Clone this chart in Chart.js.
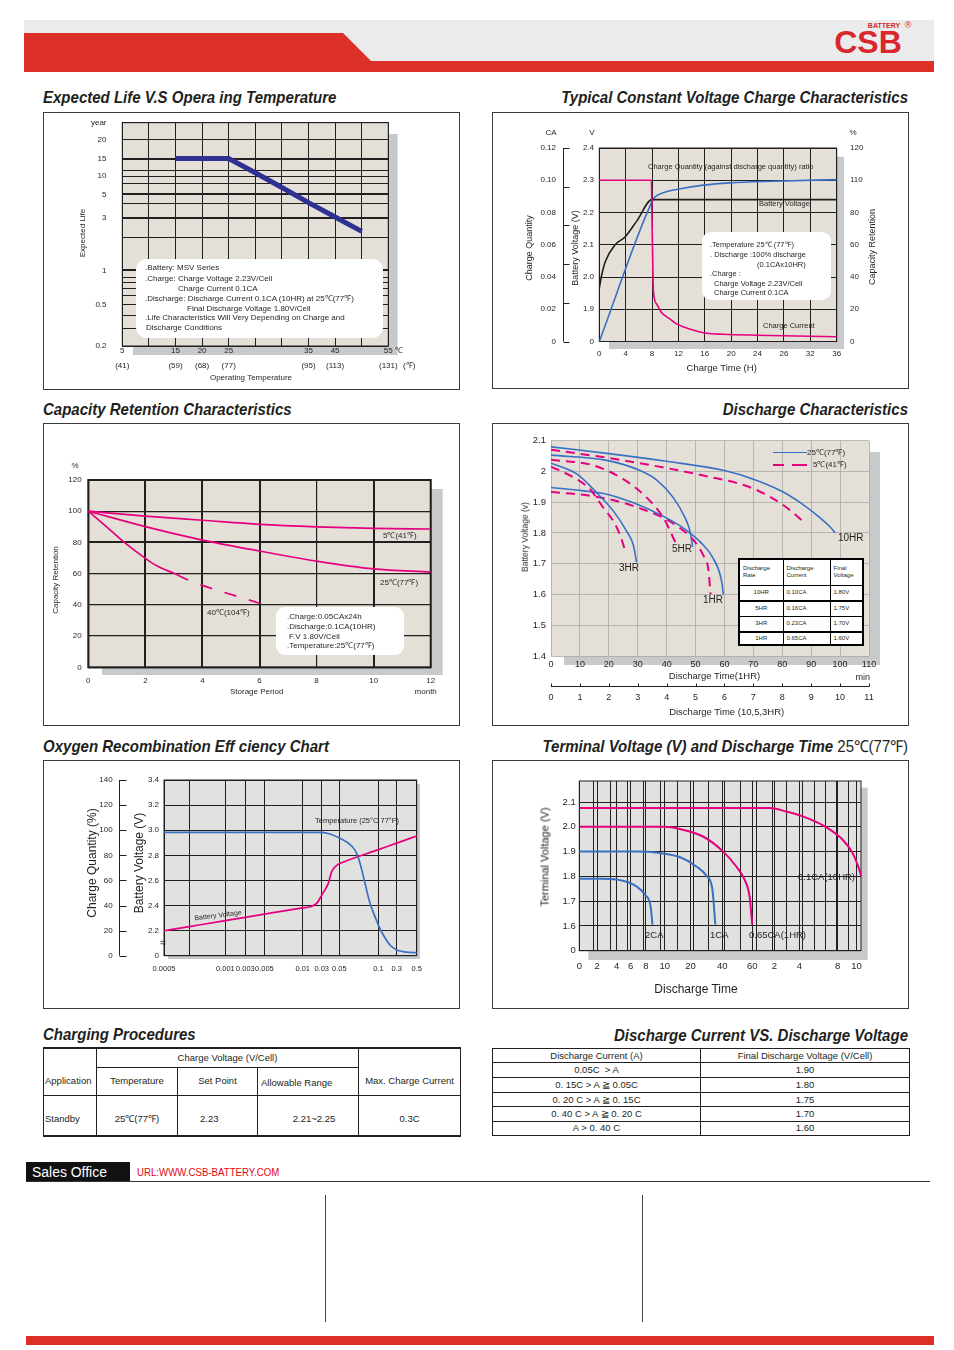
<!DOCTYPE html>
<html>
<head>
<meta charset="utf-8">
<title>CSB battery characteristics</title>
<script src="https://cdn.jsdelivr.net/npm/chart.js@4.4.1/dist/chart.umd.min.js"></script>
<style>
  body { margin: 0; background: #fff; }
  #page { position: relative; width: 954px; height: 1350px; overflow: hidden; font-family: 'Liberation Sans', Arial, sans-serif; color: #231f20; }
  .abs { position: absolute; white-space: nowrap; line-height: 1; }
  .blk { position: absolute; box-sizing: border-box; }
  .panel { position: absolute; box-sizing: border-box; border: 1px solid #3c3c3c; }
  .head { font-family: 'Liberation Sans Narrow', 'Arial Narrow', 'Liberation Sans', sans-serif; font-weight: bold; font-style: italic; }
  .note { position: absolute; background: #fff; border-radius: 9px; }
  canvas { position: absolute; }
  table { position: absolute; border-collapse: collapse; color: #231f20; table-layout: fixed; }
  .tbl { font-family: 'Liberation Sans Narrow', 'Arial Narrow', 'Liberation Sans', sans-serif; font-size: 9.5px; }
  .tbl td { border: 1px solid #231f20; padding: 0 2px; line-height: 1; }
  #rateTable td { border: 1px solid #000; padding: 0 3px; line-height: 1.15; }
</style>
</head>
<body>
<div id="page">
  <!-- header -->
  <div class="blk" style="left:24px;top:20px;width:910px;height:41px;background:#ebebeb"></div>
  <svg class="blk" style="left:0;top:0" width="954" height="80">
    <polygon points="24,33 343,33 371,61 934,61 934,72 24,72" fill="#dc2f27"/>
  </svg>

  <!-- chart panels -->
  <div class="panel" style="left:43px;top:112px;width:417px;height:278px"></div>
  <div class="panel" style="left:492px;top:112px;width:417px;height:277px"></div>
  <div class="panel" style="left:43px;top:423px;width:417px;height:303px"></div>
  <div class="panel" style="left:492px;top:423px;width:417px;height:303px"></div>
  <div class="panel" style="left:43px;top:760px;width:417px;height:249px"></div>
  <div class="panel" style="left:492px;top:760px;width:417px;height:249px"></div>

  <canvas id="lifeChart" width="417" height="278" style="left:43px;top:112px"></canvas>
  <canvas id="chargeChart" width="417" height="277" style="left:492px;top:112px"></canvas>
  <canvas id="storageChart" width="417" height="303" style="left:43px;top:423px"></canvas>
  <canvas id="dischargeChart" width="417" height="303" style="left:492px;top:423px"></canvas>
  <canvas id="oxygenChart" width="417" height="249" style="left:43px;top:760px"></canvas>
  <canvas id="terminalChart" width="417" height="249" style="left:492px;top:760px"></canvas>

  <!-- note boxes -->
  <div class="note" style="left:136px;top:259px;width:247px;height:79px;border-radius:11px"></div>
  <div class="note" style="left:702px;top:232px;width:129px;height:68px"></div>
  <div class="note" style="left:276px;top:607px;width:128px;height:48px"></div>

  <!-- discharge rate table inside the discharge chart -->
  <table id="rateTable" style="left:738px;top:558px;width:124px;height:86px;font-size:6px;border:2px solid #000;background:#fff">
    <colgroup><col style="width:44px"><col style="width:47px"><col style="width:33px"></colgroup>
    <tr style="height:26px"><td style="vertical-align:top;padding-top:5px">Discharge<br>Rate</td><td style="vertical-align:top;padding-top:5px">Discharge<br>Current</td><td style="vertical-align:top;padding-top:5px">Final<br>Voltage</td></tr>
    <tr style="height:16px"><td style="text-align:center">10HR</td><td>0.10CA</td><td>1.80V</td></tr>
    <tr style="height:15px"><td style="text-align:center;border-top-width:2px">5HR</td><td style="border-top-width:2px">0.16CA</td><td style="border-top-width:2px">1.75V</td></tr>
    <tr style="height:16px"><td style="text-align:center">3HR</td><td>0.23CA</td><td>1.70V</td></tr>
    <tr style="height:13px"><td style="text-align:center;border-top-width:2px">1HR</td><td style="border-top-width:2px">0.65CA</td><td style="border-top-width:2px">1.60V</td></tr>
  </table>

  <!-- charging procedures -->
  <table class="tbl" style="left:43px;top:1047px;width:417px;border-top:2px solid #231f20;border-bottom:2px solid #231f20">
    <colgroup><col style="width:53px"><col style="width:81px"><col style="width:80px"><col style="width:101px"><col style="width:102px"></colgroup>
    <tr style="height:19px">
      <td rowspan="2" style="vertical-align:bottom;padding-bottom:9px;padding-left:1px">Application</td>
      <td colspan="3" style="text-align:center">Charge Voltage (V/Cell)</td>
      <td rowspan="2" style="vertical-align:bottom;padding-bottom:9px;text-align:center">Max. Charge Current</td>
    </tr>
    <tr style="height:28px">
      <td style="text-align:center">Temperature</td>
      <td style="text-align:center">Set Point</td>
      <td style="padding-left:3px;padding-top:3px">Allowable Range</td>
    </tr>
    <tr style="height:41px">
      <td style="padding-left:1px;padding-top:6px">Standby</td>
      <td style="text-align:center;padding-top:6px">25℃(77℉)</td>
      <td style="padding-left:22px;padding-top:6px">2.23</td>
      <td style="text-align:center;padding-left:14px;padding-top:6px">2.21~2.25</td>
      <td style="text-align:center;padding-top:6px">0.3C</td>
    </tr>
  </table>

  <!-- discharge current vs voltage -->
  <table class="tbl" style="left:492px;top:1048px;width:417px">
    <colgroup><col style="width:208px"><col style="width:209px"></colgroup>
    <tr style="height:14px"><td style="text-align:center">Discharge Current (A)</td><td style="text-align:center">Final Discharge Voltage (V/Cell)</td></tr>
    <tr style="height:15px"><td style="text-align:center">0.05C &nbsp;&gt; A</td><td style="text-align:center">1.90</td></tr>
    <tr style="height:14.5px"><td style="text-align:center">0. 15C &gt; A ≧ 0.05C</td><td style="text-align:center">1.80</td></tr>
    <tr style="height:14.5px"><td style="text-align:center">0. 20 C &gt; A ≧ 0. 15C</td><td style="text-align:center">1.75</td></tr>
    <tr style="height:14.5px"><td style="text-align:center">0. 40 C &gt; A ≧ 0. 20 C</td><td style="text-align:center">1.70</td></tr>
    <tr style="height:14px"><td style="text-align:center">A &gt; 0. 40 C</td><td style="text-align:center">1.60</td></tr>
  </table>

  <!-- footer -->
  <div class="blk" style="left:26px;top:1162px;width:104px;height:20px;background:#111"></div>
  <div class="blk" style="left:26px;top:1181px;width:904px;height:1px;background:#333"></div>
  <div class="blk" style="left:325px;top:1195px;width:1px;height:127px;background:#444"></div>
  <div class="blk" style="left:642px;top:1195px;width:1px;height:127px;background:#444"></div>
  <div class="blk" style="left:26px;top:1336px;width:908px;height:9px;background:#dc2f27"></div>
</div>

<script>
// ---------- data ----------
// Expected life vs operating temperature
const lifeTempC = [15, 20, 25, 30, 35, 40, 45, 50];
const lifeYears = [15, 15, 15, 11, 6.9, 4.3, 3.1, 2.5];
const lifeTickC = [5, 15, 20, 25, 40, 45, 55];
const lifeTickLabelC = ['5', '15', '20', '25', '35', '45', '55'];
const lifeTickLabelF = ['(41)', '(59)', '(68)', '(77)', '(95)', '(113)', '(131)'];
const lifeYearTicks = [25, 20, 15, 10, 5, 3, 1, 0.5, 0.2];
const lifeYearLabels = ['year', '20', '15', '10', '5', '3', '1', '0.5', '0.2'];

// Constant voltage charge
const chgTimeTicks = ['0', '4', '8', '12', '16', '20', '24', '26', '32', '36'];
const chgRetLabels = ['0', '20', '40', '60', '80', '110', '120'];
const chgCurH = [0, 7.9, 8.0, 8.1, 8.2, 8.7, 9.4, 10.7, 11.7, 13.7, 16.3, 18.8, 23.8, 36];
const chgCurCA = [0.1, 0.1, 0.075, 0.05, 0.0315, 0.0233, 0.0181, 0.014, 0.0109, 0.0078, 0.0051, 0.0045, 0.0039, 0.0029];
const chgVoltH = [0, 0.3, 0.9, 2.4, 3.9, 5.7, 8, 36];
const chgVolt = [1.965, 2.0, 2.047, 2.1, 2.124, 2.174, 2.24, 2.24];
const chgQtyH = [0, 7.9, 8.4, 9.7, 11.7, 15.8, 19.8, 26.4, 36];
const chgQty = [0, 86, 89.5, 92.2, 94.3, 97, 98.4, 99.4, 100.4];

// Capacity retention (storage)
const store5M = [0, 2, 4, 6, 8, 10, 12];
const store5 = [100, 96.8, 94.2, 91.6, 90, 89, 88.6];
const store25M = [0, 2, 4, 6, 8, 10, 12];
const store25 = [100, 90.1, 81.5, 74.5, 68, 63, 61];
const store40M = [0, 0.64, 1.23, 2, 2.4, 3, 3.5, 6];
const store40 = [100, 90, 80.5, 69.8, 65, 60.2, 55.9, 41];

// Discharge characteristics (x in hours for 10/5/3HR, minutes for 1HR)
const d10H = [0, 2, 4, 6, 7, 8, 8.6, 9.3, 9.65, 9.83];
const d10V = [2.08, 2.058, 2.033, 2.003, 1.975, 1.935, 1.9, 1.85, 1.82, 1.8];
const d10H5 = [0, 2.5, 5.3, 6.9, 8, 8.8];
const d10V5 = [2.071, 2.036, 1.986, 1.948, 1.893, 1.832];
const d5H = [0, 1.93, 3.08, 3.66, 4.23, 4.64, 4.81, 4.9];
const d5V = [2.053, 2.036, 2.003, 1.972, 1.915, 1.849, 1.805, 1.755];
const d5H5 = [0, 1.46, 2.5, 3.31, 3.89, 4.35];
const d5V5 = [2.038, 2.02, 1.975, 1.915, 1.849, 1.76];
const d3H = [0, 0.89, 1.58, 2.16, 2.62, 2.85, 2.96];
const d3V = [2.027, 1.992, 1.931, 1.871, 1.805, 1.76, 1.705];
const d3H5 = [0, 0.77, 1.35, 1.81, 2.16, 2.39, 2.56];
const d3V5 = [2.016, 1.981, 1.942, 1.882, 1.838, 1.793, 1.744];
const d1M = [0, 11.2, 19.3, 28.5, 38.9, 45.8, 51.6, 56.2, 59.1, 59.6];
const d1V = [1.948, 1.937, 1.926, 1.898, 1.854, 1.816, 1.771, 1.716, 1.639, 1.6];
const d1M5 = [0, 11.2, 22.7, 30.8, 38.9, 44.6, 49.3, 52.7, 54.4, 55.2];
const d1V5 = [1.933, 1.924, 1.904, 1.88, 1.849, 1.816, 1.777, 1.727, 1.683, 1.6];

// Oxygen recombination efficiency
const oxRateTicks = [0.0005, 0.0007, 0.001, 0.003, 0.005, 0.01, 0.03, 0.05, 0.1, 0.3, 0.5];
const oxRateLabels = ['0.0005', '', '0.001', '0.003', '0.005', '0.01', '0.03', '0.05', '0.1', '0.3', '0.5'];
const oxEffRate = [0.0005, 0.001, 0.003, 0.005, 0.01, 0.03, 0.0394, 0.0509, 0.0658, 0.0722, 0.0765, 0.0829, 0.0893, 0.0957, 0.1, 0.1545, 0.227, 0.3, 0.4, 0.5];
const oxEff = [98.3, 98.3, 98.3, 98.3, 98.3, 98.3, 97, 93.5, 87.4, 81.6, 73.6, 57.7, 41.7, 31.1, 24.4, 16.5, 8.5, 4.5, 2.9, 2.4];
const oxVoltRate = [0.0005, 0.0007, 0.001, 0.003, 0.005, 0.01, 0.0177, 0.0247, 0.0312, 0.0375, 0.0413, 0.047, 0.053, 0.1, 0.3, 0.5];
const oxVolt = [2.199, 2.232, 2.279, 2.306, 2.331, 2.381, 2.39, 2.417, 2.497, 2.576, 2.67, 2.72, 2.74, 2.845, 2.897, 2.954];

// Terminal voltage vs discharge time (minutes)
const tvTimeTicks = [0, 2, 4, 6, 8, 10, 20, 40, 60, 120, 240, 480, 600];
const tvTimeLabels = ['0', '2', '4', '6', '8', '10', '20', '40', '60', '2', '4', '8', '10'];
const tvVoltTicks = [1.5, 1.6, 1.7, 1.8, 1.9, 2.0, 2.1];
const tvVoltLabels = ['0', '1.6', '1.7', '1.8', '1.9', '2.0', '2.1'];
const tv01M = [0, 60, 106, 176, 261, 407, 512, 575, 617, 628];
const tv01V = [2.076, 2.076, 2.076, 2.062, 2.042, 1.999, 1.948, 1.894, 1.827, 1.803];
const tv065M = [0, 10, 15.8, 27.9, 40.4, 49.3, 54.9, 58.2, 60];
const tv065V = [2.0, 2.0, 1.991, 1.961, 1.901, 1.84, 1.786, 1.719, 1.605];
const tv1M = [0, 6.8, 9.5, 15.8, 23.7, 30, 33.8, 35.6];
const tv1V = [1.9, 1.9, 1.894, 1.878, 1.84, 1.803, 1.746, 1.605];
const tv2M = [0, 2.6, 4.9, 6.8, 7.9, 8.5, 8.7];
const tv2V = [1.79, 1.79, 1.782, 1.759, 1.726, 1.679, 1.605];

// ---------- setup ----------
const INK = '#231f20';
const MAGENTA = '#e6007e';
const BLUE = '#3a70c4';
const BEIGE = '#e4e0d7';
const GREY = '#e1e1e0';

Chart.defaults.font.family = "'Liberation Sans', Arial, sans-serif";
Chart.defaults.color = INK;
Chart.defaults.animation = false;
Chart.defaults.plugins.legend.display = false;
Chart.defaults.plugins.tooltip.enabled = false;
Chart.defaults.elements.point.radius = 0;

const xy = (xs, ys) => xs.map((x, i) => ({ x, y: ys[i] }));

// fixed axis thickness so the plot area lands where the original has it
const fit = n => scale => {
    if (scale.isHorizontal()) scale.height = n; else scale.width = n;
    scale.paddingLeft = scale.paddingRight = scale.paddingTop = scale.paddingBottom = 0;
};

const axisBase = {
    border: { display: false },
    grid: { drawTicks: false, color: INK, lineWidth: 1 },
    ticks: { autoSkip: false, maxRotation: 0, minRotation: 0, padding: 4, color: INK, font: { size: 8 } }
};
const axis = (size, extra) => Chart.helpers.merge(Chart.helpers.clone(axisBase), Object.assign({ afterFit: fit(size) }, extra));

// scale with uneven spacing, set by [value, position] anchors
const LinearScale = Chart.LinearScale || Chart.registry.getScale('linear');
class PiecewiseScale extends LinearScale {
    determineDataLimits() {
        const a = this.options.anchors;
        this.min = a[0][0];
        this.max = a[a.length - 1][0];
    }
    buildTicks() {
        return this.options.marks.map(m => ({
            value: m.value !== undefined ? m.value : this.fromUnit(m.unit),
            text: m.label || '',
            grid: !!m.grid
        }));
    }
    toUnit(v) {
        const a = this.options.anchors;
        let i = 1;
        while (i < a.length - 1 && v > a[i][0]) i++;
        const v0 = a[i - 1][0], u0 = a[i - 1][1], v1 = a[i][0], u1 = a[i][1];
        return u0 + (v - v0) / (v1 - v0) * (u1 - u0);
    }
    fromUnit(u) {
        const a = this.options.anchors;
        const up = a[a.length - 1][1] > a[0][1];
        let i = 1;
        while (i < a.length - 1 && (up ? u > a[i][1] : u < a[i][1])) i++;
        const v0 = a[i - 1][0], u0 = a[i - 1][1], v1 = a[i][0], u1 = a[i][1];
        return v0 + (u - u0) / (u1 - u0) * (v1 - v0);
    }
    getPixelForValue(v) {
        const a = this.options.anchors;
        const u0 = a[0][1], u1 = a[a.length - 1][1];
        return this.getPixelForDecimal((this.toUnit(v) - u0) / (u1 - u0));
    }
    getValueForPixel(p) {
        const a = this.options.anchors;
        const u0 = a[0][1], u1 = a[a.length - 1][1];
        return this.fromUnit(u0 + this.getDecimalForPixel(p) * (u1 - u0));
    }
}
PiecewiseScale.id = 'piecewise';
PiecewiseScale.defaults = LinearScale.defaults;
Chart.register(PiecewiseScale);

const markText = (v, i, t) => t[i].text;
const markGrid = c => (c.tick && c.tick.grid ? INK : 'rgba(0,0,0,0)');

// plot background, drop shadow and frame
const framePlugin = {
    id: 'frame',
    beforeDraw(chart, args, o) {
        const { ctx, chartArea: a } = chart;
        const s = o.shadow;
        ctx.save();
        ctx.fillStyle = '#c8c9cb';
        ctx.fillRect(a.left + s[0], a.top + s[1], a.width - s[0] + s[2], a.height - s[1] + s[3]);
        ctx.fillStyle = o.bg;
        ctx.fillRect(a.left, a.top, a.width, a.height);
        ctx.restore();
    },
    beforeDatasetsDraw(chart, args, o) {
        if (!o.border) return;
        const { ctx, chartArea: a } = chart;
        ctx.save();
        ctx.strokeStyle = INK;
        ctx.lineWidth = o.border;
        ctx.strokeRect(a.left, a.top, a.width, a.height);
        ctx.restore();
    }
};

// detached axis lines with their own tick marks
const rulesPlugin = {
    id: 'rules',
    afterDraw(chart, args, o) {
        const { ctx, chartArea: a } = chart;
        (o.items || []).forEach(r => {
            const s = chart.scales[r.scale];
            ctx.save();
            ctx.strokeStyle = INK;
            ctx.lineWidth = 1;
            ctx.beginPath();
            if (s.isHorizontal()) {
                const y = Math.round(a.bottom + r.offset) + 0.5;
                ctx.moveTo(a.left, y);
                ctx.lineTo(a.right, y);
                r.ticks.forEach(v => {
                    const x = Math.round(s.getPixelForValue(v)) + 0.5;
                    ctx.moveTo(x, y);
                    ctx.lineTo(x, y + r.len);
                });
            } else {
                const x = Math.round(a.left - r.offset) + 0.5;
                ctx.moveTo(x, a.top);
                ctx.lineTo(x, a.bottom);
                r.ticks.forEach(v => {
                    const y = Math.round(s.getPixelForValue(v)) + 0.5;
                    ctx.moveTo(x, y);
                    ctx.lineTo(x + r.len, y);
                });
            }
            ctx.stroke();
            ctx.restore();
        });
    }
};

const line = (data, color, width, extra) => Object.assign({
    data, borderColor: color, borderWidth: width, fill: false, cubicInterpolationMode: 'monotone'
}, extra || {});

// ---------- 1. expected life ----------
new Chart(document.getElementById('lifeChart'), {
    type: 'line',
    data: { datasets: [line(xy(lifeTempC, lifeYears), '#2e3192', 5, { cubicInterpolationMode: 'default', tension: 0 })] },
    options: {
        responsive: false,
        layout: { padding: { left: 0, right: 71.7, top: 10.7, bottom: 0 } },
        scales: {
            x: axis(44, {
                type: 'linear', min: 5, max: 55,
                ticks: {
                    stepSize: 5, padding: -3, font: { size: 8, lineHeight: 1.91 },
                    callback: v => {
                        const i = lifeTickC.indexOf(v);
                        return i < 0 ? '' : [lifeTickLabelC[i], lifeTickLabelF[i]];
                    }
                }
            }),
            y: axis(79.3, {
                type: 'piecewise',
                anchors: [[0.2, 0], [0.5, 41.3], [1, 74.7], [3, 127.3], [5, 151], [10, 169], [15, 186.7], [20, 205.7], [25, 222.3]],
                marks: lifeYearTicks.map((v, i) => ({ value: v, label: lifeYearLabels[i] })).concat(
                    [0, 17.3, 30.7, 50, 57.3, 63.3, 68.3, 75.7, 108.3, 128.3, 141.7, 152.3, 161.7, 169, 175, 186, 205.7, 222.3]
                        .map(u => ({ unit: u, grid: true }))),
                grid: { color: markGrid },
                ticks: { padding: 15.8, callback: markText }
            })
        },
        plugins: { frame: { bg: BEIGE, shadow: [10.7, 11.3, 9.4, 9], border: 1 } }
    },
    plugins: [framePlugin]
});

// ---------- 2. constant voltage charge ----------
new Chart(document.getElementById('chargeChart'), {
    type: 'line',
    data: {
        datasets: [
            line(xy(chgCurH, chgCurCA), MAGENTA, 1.6, { yAxisID: 'yCA' }),
            line(xy(chgVoltH, chgVolt), INK, 1.6, { yAxisID: 'y' }),
            line(xy(chgQtyH, chgQty), BLUE, 1.6, { yAxisID: 'yP' })
        ]
    },
    options: {
        responsive: false,
        layout: { padding: { left: 0, right: 0, top: 36, bottom: 0 } },
        scales: {
            x: axis(47.5, {
                type: 'linear', min: 0, max: 36,
                ticks: { stepSize: 4, padding: 7, callback: v => chgTimeTicks[v / 4] }
            }),
            y: axis(36, {
                type: 'linear', min: 1.8, max: 2.4, weight: 0,
                ticks: { stepSize: 0.1, padding: 5.3, callback: v => (v < 1.85 ? '0' : v.toFixed(1)) }
            }),
            yCA: axis(71.3, {
                type: 'linear', position: 'left', weight: 1, min: 0, max: 0.12, grid: { display: false },
                ticks: { stepSize: 0.02, padding: 7.3, callback: v => (v === 0 ? '0' : v.toFixed(2)) }
            }),
            yP: axis(72.3, {
                type: 'linear', position: 'right', min: 0, max: 120, grid: { display: false },
                ticks: { stepSize: 20, padding: 13.3, callback: v => chgRetLabels[v / 20] }
            })
        },
        plugins: {
            frame: { bg: BEIGE, shadow: [9.7, 8.7, 7.3, 7.5], border: 1 },
            rules: { items: [{ scale: 'yCA', offset: 36, len: 6, ticks: [0, 0.024, 0.048, 0.072, 0.096, 0.12] }] }
        }
    },
    plugins: [framePlugin, rulesPlugin]
});

// ---------- 3. capacity retention ----------
new Chart(document.getElementById('storageChart'), {
    type: 'line',
    data: {
        datasets: [
            line(xy(store5M, store5), MAGENTA, 1.7),
            line(xy(store25M, store25), MAGENTA, 1.7),
            line(xy(store40M, store40), MAGENTA, 1.7, {
                segment: {
                    borderDash: c => (c.p0.parsed.x >= 3.5 ? [12.4, 13] : undefined),
                    borderDashOffset: c => (c.p0.parsed.x >= 3.5 ? 12.4 : 0)
                }
            })
        ]
    },
    options: {
        responsive: false,
        layout: { padding: { left: 0, right: 29.3, top: 57, bottom: 0 } },
        scales: {
            x: axis(58.7, {
                type: 'linear', min: 0, max: 12,
                grid: { lineWidth: c => ([2, 4, 6, 10].includes(c.tick.value) ? 2 : 1.2) },
                ticks: { stepSize: 2, padding: 8.9 }
            }),
            y: axis(45.3, {
                type: 'linear', min: 0, max: 120,
                grid: { lineWidth: c => ([80, 120].includes(c.tick.value) ? 2 : 1.2) },
                ticks: { stepSize: 20, padding: 6.6 }
            })
        },
        plugins: { frame: { bg: BEIGE, shadow: [13.7, 9, 12, 7.7], border: 2 } }
    },
    plugins: [framePlugin]
});

// ---------- 4. discharge characteristics ----------
const dash = { borderDash: [9, 6] };
new Chart(document.getElementById('dischargeChart'), {
    type: 'line',
    data: {
        datasets: [
            line(xy(d10H, d10V), BLUE, 1.6, { xAxisID: 'x2' }),
            line(xy(d10H5, d10V5), MAGENTA, 2, Object.assign({ xAxisID: 'x2' }, dash)),
            line(xy(d5H, d5V), BLUE, 1.6, { xAxisID: 'x2' }),
            line(xy(d5H5, d5V5), MAGENTA, 2, Object.assign({ xAxisID: 'x2' }, dash)),
            line(xy(d3H, d3V), BLUE, 1.6, { xAxisID: 'x2' }),
            line(xy(d3H5, d3V5), MAGENTA, 2, Object.assign({ xAxisID: 'x2' }, dash)),
            line(xy(d1M, d1V), BLUE, 1.6, { xAxisID: 'x' }),
            line(xy(d1M5, d1V5), MAGENTA, 2, Object.assign({ xAxisID: 'x' }, dash))
        ]
    },
    options: {
        responsive: false,
        layout: { padding: { left: 0, right: 40, top: 17.7, bottom: 0 } },
        scales: {
            x: axis(29.7, {
                type: 'linear', min: 0, max: 110, weight: 0, grid: { color: '#a9a9a9', lineWidth: 0.8 },
                ticks: { stepSize: 10, padding: 3.6, font: { size: 9 } }
            }),
            x2: axis(40.3, {
                type: 'linear', position: 'bottom', weight: 1, min: 0, max: 11, grid: { display: false },
                ticks: { stepSize: 1, padding: 6.9, font: { size: 9 } }
            }),
            y: axis(59, {
                type: 'linear', min: 1.4, max: 2.1, grid: { color: '#a9a9a9', lineWidth: 0.8 },
                ticks: { stepSize: 0.1, padding: 5, font: { size: 9.5 }, callback: v => String(+v.toFixed(1)) }
            })
        },
        plugins: {
            frame: { bg: BEIGE, shadow: [13, 11.3, 11, 9], border: 0 },
            rules: { items: [{ scale: 'x2', offset: 29.7, len: -3, ticks: [0, 1, 2, 3, 4, 5, 6, 7, 8, 9, 10, 11] }] }
        }
    },
    plugins: [framePlugin, rulesPlugin]
});

// ---------- 5. oxygen recombination efficiency ----------
new Chart(document.getElementById('oxygenChart'), {
    type: 'line',
    data: {
        datasets: [
            line(xy(oxEffRate, oxEff), BLUE, 1.7, { yAxisID: 'yQ' }),
            line(xy(oxVoltRate, oxVolt), MAGENTA, 1.7, { yAxisID: 'y' })
        ]
    },
    options: {
        responsive: false,
        layout: { padding: { left: 0, right: 43.3, top: 20, bottom: 0 } },
        scales: {
            x: axis(53.3, {
                type: 'piecewise',
                anchors: oxRateTicks.map((v, i) => [v, [372, 448, 556, 616, 673, 788, 845, 898, 1015, 1070, 1130][i]]),
                marks: oxRateTicks.map((v, i) => ({ value: v, label: oxRateLabels[i], grid: true })),
                grid: { color: markGrid },
                ticks: { padding: 9, font: { size: 7.5 }, callback: markText }
            }),
            y: axis(45, {
                type: 'linear', min: 2.0, max: 3.4, weight: 0,
                ticks: { stepSize: 0.2, padding: 5, callback: v => (v < 2.1 ? '0' : v.toFixed(1)) }
            }),
            yQ: axis(76, {
                type: 'linear', position: 'left', weight: 1, min: 0, max: 140, grid: { display: false },
                ticks: { stepSize: 20, padding: 6.3 }
            })
        },
        plugins: {
            frame: { bg: GREY, shadow: [4, 4, 3.3, 3.3], border: 1 },
            rules: { items: [{ scale: 'yQ', offset: 45, len: 7, ticks: [0, 20, 40, 60, 80, 100, 120, 140] }] }
        }
    },
    plugins: [framePlugin, rulesPlugin]
});

// ---------- 6. terminal voltage vs discharge time ----------
new Chart(document.getElementById('terminalChart'), {
    type: 'line',
    data: {
        datasets: [
            line(xy(tv01M, tv01V), MAGENTA, 2),
            line(xy(tv065M, tv065V), MAGENTA, 2),
            line(xy(tv1M, tv1V), BLUE, 2),
            line(xy(tv2M, tv2V), BLUE, 2)
        ]
    },
    options: {
        responsive: false,
        layout: { padding: { left: 0, right: 48, top: 21, bottom: 0 } },
        scales: {
            x: axis(58.3, {
                type: 'piecewise',
                anchors: [[0, 0], [2, 18], [4, 37.4], [6, 51.4], [8, 66.7], [10, 85.7], [20, 111.4], [40, 143.4],
                          [60, 173.4], [120, 195.7], [240, 220.7], [480, 259], [600, 278], [628, 282.4]],
                marks: tvTimeTicks.map((v, i) => ({ value: v, label: tvTimeLabels[i] })).concat(
                    [14.7, 31.4, 48, 64.7, 81.4, 98, 114.7, 130, 146, 161.4, 177.4, 194, 207.4, 224, 235.7, 246.7, 257.4, 270]
                        .map(u => ({ unit: u, grid: true }))),
                grid: { color: markGrid },
                ticks: { padding: 10.3, font: { size: 9.5 }, callback: markText }
            }),
            y: axis(87.3, {
                type: 'linear', min: 1.5, max: 2.185,
                afterBuildTicks: s => { s.ticks = tvVoltTicks.map(v => ({ value: v })); },
                ticks: { padding: 3.6, font: { size: 9.5 }, callback: (v, i) => tvVoltLabels[i] }
            })
        },
        plugins: { frame: { bg: GREY, shadow: [9, 6.7, 6.7, 9.3], border: 1 } }
    },
    plugins: [framePlugin]
});

// ---------- texts ----------
const page = document.getElementById('page');
function put(html, x, y, o = {}) {
    const el = document.createElement('div');
    el.className = 'abs ' + (o.cls || '');
    el.innerHTML = html;
    el.style.left = x + 'px';
    el.style.top = y + 'px';
    el.style.fontSize = (o.size || 8) + 'px';
    if (o.color) el.style.color = o.color;
    if (o.weight) el.style.fontWeight = o.weight;
    const ax = o.ax || 0;
    el.style.transformOrigin = `${ax * 100}% 50%`;
    el.style.transform = `translate(${-ax * 100}%, -50%)` + (o.rot ? ` rotate(${o.rot}deg)` : '') + (o.sx ? ` scaleX(${o.sx})` : '');
    page.appendChild(el);
}

// logo
put('CSB', 868, 42, { ax: 0.5, size: 32, weight: 'bold', color: '#d9272d' });
put('BATTERY', 884, 24.5, { ax: 0.5, size: 7, weight: 'bold', color: '#d9272d' });
put('®', 908, 25, { ax: 0.5, size: 9, color: '#d9272d' });

// section titles
const H = { cls: 'head', size: 16.5, sx: 0.91 };
const HR = Object.assign({ ax: 1 }, H);
put('Expected Life V.S Opera ing Temperature', 43, 97, H);
put('Typical Constant Voltage Charge Characteristics', 908, 97, HR);
put('Capacity Retention Characteristics', 43, 409, H);
put('Discharge Characteristics', 908, 409, HR);
put('Oxygen Recombination Eff ciency Chart', 43, 746, H);
put('Terminal Voltage (V) and Discharge Time <span style="font-weight:normal;font-style:normal">25℃(77℉)</span>', 908, 746, HR);
put('Charging Procedures', 43, 1034, H);
put('Discharge Current VS. Discharge Voltage', 908, 1035, HR);

// 1
put('Expected Life', 82.7, 233, { ax: 0.5, rot: -90 });
put('Operating Temperature', 251, 377.7, { ax: 0.5 });
put('℃', 395, 351);
put('(℉)', 403, 366);
put('.Battery: MSV Series', 145, 268);
put('.Charge: Charge Voltage 2.23V/Cell', 145, 279);
put('Charge Current 0.1CA', 178, 289);
put('.Discharge: Discharge Current 0.1CA (10HR) at 25℃(77℉)', 145, 298.5);
put('Final Discharge Voltage 1.80V/Cell', 187, 308.5);
put('.Life Characteristics Will Very Depending on Charge and', 145, 318);
put('Discharge Conditions', 146, 328);

// 2
put('CA', 551, 133, { ax: 0.5 });
put('V', 592, 133, { ax: 0.5 });
put('%', 853, 133, { ax: 0.5 });
put('Charge Quantity', 528.5, 248, { ax: 0.5, rot: -90, size: 9 });
put('Battery Voltage (V)', 575, 248, { ax: 0.5, rot: -90, size: 9 });
put('Capacity Retention', 871.7, 246.7, { ax: 0.5, rot: -90, size: 9 });
put('Charge Time (H)', 721.7, 367.7, { ax: 0.5, size: 9.5 });
put('Charge Quantity (against discharge quantity) ratio', 648, 167, { size: 7.5 });
put('Battery Voltage', 759, 204, { size: 7.5 });
put('Charge Current', 763, 326, { size: 7.5 });
put('.Temperature 25℃ (77℉)', 710, 245, { size: 7.5 });
put('. Discharge :100% discharge', 710, 255, { size: 7.5 });
put('(0.1CAx10HR)', 757, 264.5, { size: 7.5 });
put('.Charge :', 710, 274, { size: 7.5 });
put('Charge Voltage 2.23V/Cell', 714, 284, { size: 7.5 });
put('Charge Current 0.1CA', 714, 293, { size: 7.5 });

// 3
put('%', 75, 466, { ax: 0.5 });
put('Capacity Retention', 56, 580, { ax: 0.5, rot: -90 });
put('Storage Period', 256.7, 691.7, { ax: 0.5 });
put('month', 425.7, 691.7, { ax: 0.5 });
put('5℃(41℉)', 383, 536);
put('25℃(77℉)', 380, 583);
put('40℃(104℉)', 207, 613);
put('.Charge:0.05CAx24h', 287, 617);
put('.Discharge:0.1CA(10HR)', 287, 627);
put('F.V 1.80V/Cell', 289, 636.5);
put('.Temperature:25℃(77℉)', 287, 646);

// 4
put('Battery Voltage (v)', 525, 536.7, { ax: 0.5, rot: -90, size: 8.5 });
put('Discharge Time(1HR)', 714.5, 676, { ax: 0.5, size: 9.5 });
put('min', 862.7, 677, { ax: 0.5, size: 9 });
put('Discharge Time (10,5,3HR)', 726.7, 712, { ax: 0.5, size: 9.5 });
put('10HR', 838, 538, { size: 10 });
put('5HR', 672, 549, { size: 10 });
put('3HR', 619, 568, { size: 10 });
put('1HR', 703, 600, { size: 10 });
put('<span style="display:inline-block;width:34px;border-top:1.3px solid ' + BLUE + ';vertical-align:middle"></span>25℃(77℉)', 773, 453);
put('<span style="display:inline-block;width:11px;border-top:2px solid ' + MAGENTA + ';vertical-align:middle;margin-right:8px"></span>' +
    '<span style="display:inline-block;width:15px;border-top:2px solid ' + MAGENTA + ';vertical-align:middle;margin-right:6px"></span>5℃(41℉)', 773, 465);

// 5
put('Charge Quantity (%)', 91.7, 863, { ax: 0.5, rot: -90, size: 12 });
put('Battery Voltage (V)', 139, 863, { ax: 0.5, rot: -90, size: 12 });
put('Temperature (25°C 77°F)', 315, 821, { size: 7.5 });
put('Battery Voltage', 218, 915, { ax: 0.5, rot: -7, size: 7 });
put('≈', 163, 943, { ax: 0.5, size: 10 });

// 6
put('Terminal Voltage (V)', 545, 857, { ax: 0.5, rot: -90, size: 11 });
put('Discharge Time', 696, 989, { ax: 0.5, size: 12 });
put('0.1CA(10HR)', 798, 877, { size: 9.5 });
put('2CA', 645, 935, { size: 9.5 });
put('1CA', 710, 935, { size: 9.5 });
put('0.65CA(1HR)', 749, 935, { size: 9.5 });

// footer
put('Sales Office', 32, 1171.5, { size: 15.5, color: '#fff', sx: 0.9 });
put('URL:WWW.CSB-BATTERY.COM', 137, 1172, { size: 10.5, color: '#e30613', sx: 0.92 });
</script>
</body>
</html>
